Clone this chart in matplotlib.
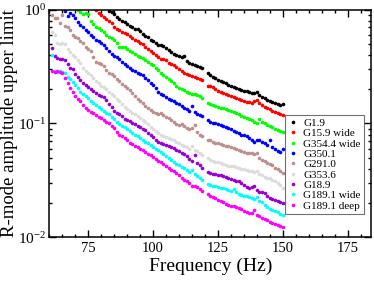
''' R-mode amplitude upper limits vs frequency for several targets
'''

import numpy as np
import matplotlib
matplotlib.use('Agg')
import matplotlib.pyplot as plt
from matplotlib.ticker import MultipleLocator, LogLocator


# DATA
#*************

# frequency bins (Hz), 120 Hz is missing (mains harmonic)
freq = [61, 62, 63, 64, 65, 66, 67, 68, 69, 70, 71, 72, 73, 74, 75, 76, 77, 78, 79, 80,
        81, 82, 83, 84, 85, 86, 87, 88, 89, 90, 91, 92, 93, 94, 95, 96, 97, 98, 99, 100,
        101, 102, 103, 104, 105, 106, 107, 108, 109, 110, 111, 112, 113, 114, 115, 116, 117, 118, 119,
        121, 122, 123, 124, 125, 126, 127, 128, 129, 130, 131, 132, 133, 134, 135, 136, 137, 138, 139, 140,
        141, 142, 143, 144, 145, 146, 147, 148, 149, 150]

# each list ends at 150 Hz and starts at the first visible bin
g1_9 = [0.98, 0.95, 0.91, 0.86, 0.83, 0.80, 0.77, 0.75, 0.72, 0.70, 0.68, 0.67, 0.65, 0.61, 0.59, 0.57, 0.54,
        0.53, 0.51, 0.49, 0.485, 0.475, 0.46, 0.44, 0.425, 0.41, 0.40, 0.39, 0.385, 0.39, 0.355, 0.34, 0.335,
        0.325, 0.32, 0.315, 0.305,
        0.275, 0.268, 0.258, 0.252, 0.243, 0.238, 0.231, 0.226, 0.219, 0.213, 0.207, 0.203, 0.199, 0.196,
        0.194, 0.192, 0.19, 0.187, 0.184, 0.19, 0.178, 0.172, 0.167, 0.162, 0.158, 0.155, 0.152, 0.149,
        0.146, 0.149]

g15_9 = [0.99, 0.94, 0.90, 0.86, 0.82, 0.79, 0.76, 0.71, 0.68, 0.655, 0.64, 0.62, 0.61, 0.59, 0.56, 0.54,
         0.525, 0.51, 0.50, 0.47, 0.45, 0.43, 0.415, 0.40, 0.385, 0.37, 0.365, 0.36, 0.34, 0.33, 0.325, 0.315,
         0.30, 0.29, 0.28, 0.27, 0.265, 0.26, 0.255, 0.25, 0.245, 0.24,
         0.215, 0.212, 0.208, 0.2, 0.194, 0.19, 0.185, 0.182, 0.179, 0.176, 0.172, 0.167, 0.163, 0.161,
         0.158, 0.155, 0.153, 0.15, 0.156, 0.162, 0.152, 0.145, 0.139, 0.136, 0.133, 0.13, 0.127, 0.124,
         0.121, 0.119]

g354_4 = [0.99, 0.96, 0.92, 0.94, 0.91, 0.80, 0.75, 0.71, 0.69, 0.66, 0.63, 0.60, 0.58, 0.56, 0.54, 0.51,
          0.47, 0.47, 0.465, 0.45, 0.43, 0.42, 0.41, 0.395, 0.385, 0.375, 0.36, 0.348, 0.336, 0.325, 0.31,
          0.295, 0.28, 0.268, 0.257, 0.245, 0.236, 0.225, 0.212, 0.205, 0.2, 0.195, 0.19, 0.187, 0.183, 0.18,
          0.178, 0.174, 0.168,
          0.152, 0.149, 0.146, 0.143, 0.14, 0.138, 0.136, 0.134, 0.131, 0.129, 0.126, 0.123, 0.12, 0.117,
          0.114, 0.112, 0.11, 0.107, 0.104, 0.102, 0.109, 0.104, 0.1, 0.097, 0.095, 0.093, 0.09, 0.088,
          0.086, 0.085]

g350_1 = [0.98, 0.87, 0.94, 0.9, 0.84, 0.77, 0.73, 0.71, 0.66, 0.63, 0.6, 0.575, 0.545, 0.525, 0.505,
          0.485, 0.46, 0.435, 0.41, 0.395, 0.38, 0.365, 0.345, 0.33, 0.318, 0.308, 0.297, 0.288, 0.278,
          0.272, 0.266, 0.252, 0.24, 0.228, 0.218, 0.205, 0.19, 0.183, 0.177, 0.17, 0.165, 0.161, 0.156,
          0.152, 0.148, 0.143, 0.138, 0.133, 0.13, 0.141, 0.126, 0.122, 0.119, 0.116,
          0.107, 0.104, 0.102, 0.1, 0.099, 0.097, 0.095, 0.093, 0.091, 0.089, 0.086, 0.084, 0.082, 0.08,
          0.079, 0.077, 0.075, 0.071, 0.069, 0.072, 0.071, 0.069, 0.067, 0.065, 0.072, 0.062, 0.06, 0.057,
          0.056, 0.06]

g291_0 = [0.9, 0.85, 0.84, 0.76, 0.89, 0.72, 0.70, 0.66, 0.60, 0.58, 0.56, 0.53, 0.505, 0.47, 0.45, 0.43,
          0.38, 0.35, 0.34, 0.33, 0.32, 0.295, 0.28, 0.27, 0.26, 0.248, 0.235, 0.224, 0.215, 0.205, 0.195,
          0.184, 0.174, 0.165, 0.157, 0.15, 0.143, 0.137, 0.131, 0.127, 0.124, 0.122, 0.123, 0.119, 0.115,
          0.112, 0.107, 0.103, 0.099, 0.097, 0.098, 0.095, 0.091, 0.089, 0.092, 0.097, 0.084, 0.08, 0.078,
          0.072, 0.071, 0.069, 0.068, 0.067, 0.066, 0.065, 0.064, 0.063, 0.062, 0.061, 0.06, 0.058, 0.057,
          0.056, 0.0555, 0.055, 0.055, 0.054, 0.055, 0.05, 0.048, 0.047, 0.045, 0.044, 0.043, 0.041, 0.04,
          0.038, 0.037]

g353_6 = [0.63, 0.60, 0.51, 0.50, 0.505, 0.50, 0.45, 0.42, 0.40, 0.385, 0.36, 0.34, 0.31, 0.29, 0.28,
          0.265, 0.25, 0.235, 0.225, 0.215, 0.207, 0.2, 0.19, 0.182, 0.173, 0.165, 0.157, 0.149, 0.14, 0.134,
          0.129, 0.124, 0.12, 0.116, 0.112, 0.108, 0.104, 0.099, 0.094, 0.09, 0.086, 0.082, 0.08, 0.078,
          0.076, 0.075, 0.073, 0.071, 0.069, 0.067, 0.065, 0.064, 0.062, 0.06, 0.063, 0.059, 0.057, 0.055,
          0.053,
          0.0495, 0.048, 0.047, 0.046, 0.0455, 0.045, 0.044, 0.043, 0.0425, 0.042, 0.042, 0.0415, 0.041,
          0.040, 0.0395, 0.039, 0.0385, 0.038, 0.0375, 0.038, 0.036, 0.035, 0.034, 0.0335, 0.033, 0.032,
          0.031, 0.03, 0.029, 0.027]

g18_9 = [0.46, 0.39, 0.375, 0.37, 0.365, 0.36, 0.33, 0.305, 0.30, 0.27, 0.255, 0.24, 0.225, 0.218, 0.21,
         0.20, 0.192, 0.185, 0.178, 0.175, 0.172, 0.16, 0.148, 0.14, 0.13, 0.123, 0.12, 0.117, 0.11, 0.107,
         0.105, 0.102, 0.099, 0.096, 0.093, 0.09, 0.087, 0.083, 0.079, 0.076, 0.072, 0.069, 0.068, 0.066,
         0.065, 0.063, 0.062, 0.0605, 0.059, 0.057, 0.055, 0.0535, 0.052, 0.049, 0.047, 0.053, 0.045, 0.043,
         0.041,
         0.0376, 0.0368, 0.036, 0.0357, 0.0353, 0.035, 0.0343, 0.0337, 0.033, 0.0325, 0.032, 0.0315, 0.031,
         0.0303, 0.029, 0.0275, 0.027, 0.0275, 0.028, 0.026, 0.025, 0.0248, 0.0245, 0.0232, 0.022, 0.0218,
         0.0215, 0.021, 0.0204, 0.02]

g189_1w = [0.40, 0.29, 0.285, 0.29, 0.285, 0.28, 0.258, 0.245, 0.232, 0.218, 0.205, 0.19, 0.183, 0.175,
           0.166, 0.158, 0.152, 0.145, 0.139, 0.133, 0.129, 0.124, 0.12, 0.115, 0.11, 0.103, 0.099, 0.096,
           0.093, 0.089, 0.086, 0.083, 0.08, 0.077, 0.075, 0.072, 0.069, 0.067, 0.065, 0.062, 0.06, 0.058,
           0.056, 0.054, 0.052, 0.05, 0.048, 0.046, 0.044, 0.043, 0.0415, 0.0405, 0.039, 0.0377, 0.039,
           0.036, 0.0345, 0.033, 0.032,
           0.0294, 0.0288, 0.0283, 0.028, 0.0277, 0.0272, 0.027, 0.0265, 0.026, 0.0255, 0.0266, 0.025,
           0.024, 0.0237, 0.0233, 0.023, 0.0226, 0.0222, 0.0218, 0.0225, 0.021, 0.0204, 0.0192, 0.0185,
           0.0178, 0.0174, 0.0171, 0.0166, 0.0162, 0.0157]

g189_1d = [0.29, 0.285, 0.29, 0.285, 0.28, 0.25, 0.225, 0.205, 0.19, 0.175, 0.165, 0.157, 0.146, 0.138,
           0.131, 0.127, 0.123, 0.118, 0.114, 0.111, 0.107, 0.104, 0.1, 0.096, 0.092, 0.084, 0.079, 0.077,
           0.074, 0.071, 0.068, 0.066, 0.064, 0.062, 0.06, 0.058, 0.056, 0.054, 0.053, 0.051, 0.049, 0.047,
           0.046, 0.044, 0.042, 0.0405, 0.039, 0.038, 0.0365, 0.0355, 0.0335, 0.032, 0.031, 0.03, 0.0285,
           0.0283, 0.0275, 0.0265, 0.0255,
           0.024, 0.0233, 0.0228, 0.0222, 0.0215, 0.021, 0.0203, 0.0198, 0.0194, 0.019, 0.0187, 0.0185,
           0.0182, 0.0177, 0.0172, 0.0168, 0.0163, 0.0165, 0.0175, 0.0158, 0.0153, 0.0149, 0.0145, 0.0141,
           0.0137, 0.0134, 0.0131, 0.0128, 0.0126, 0.0123]

series = [g1_9, g15_9, g354_4, g350_1, g291_0, g353_6, g18_9, g189_1w, g189_1d]
labels = ['G1.9', 'G15.9 wide', 'G354.4 wide', 'G350.1', 'G291.0', 'G353.6',
          'G18.9', 'G189.1 wide', 'G189.1 deep']
colors = ['#000000', '#ff0000', '#00ff00', '#0000ff', '#bc8f8f', '#dcdcdc',
          '#9400d3', '#00ffff', '#ff00ff']


# PLOT
#*************

plt.rcParams['font.family'] = ['Liberation Serif', 'DejaVu Serif']
plt.rcParams['mathtext.fontset'] = 'stix'

fig = plt.figure(figsize=(3.74, 2.81), dpi=100)
ax = fig.add_axes([0.132, 0.155, 0.86, 0.811])

for vals, lab, col in zip(series, labels, colors):
    f = freq[-len(vals):]
    ax.plot(f, vals, ls='none', marker='o', ms=2.6, mec='none', mfc=col, label=lab)

ax.set_yscale('log')
ax.set_xlim(60, 184)
ax.set_ylim(0.01, 1)

ax.xaxis.set_major_locator(MultipleLocator(25))
ax.xaxis.set_minor_locator(MultipleLocator(5))
ax.yaxis.set_minor_locator(LogLocator(base=10, subs=np.arange(2, 10)))
ax.tick_params(which='both', direction='in', top=True, right=True)
ax.tick_params(axis='x', labelsize=10.5)
ax.tick_params(axis='y', labelsize=11, pad=2.5)
ax.tick_params(which='major', length=5, width=1)
ax.tick_params(which='minor', length=2.5, width=1)
for sp in ax.spines.values():
    sp.set_linewidth(1.1)

ax.set_xlabel('Frequency (Hz)', fontsize=14, labelpad=2)
ax.set_ylabel('R-mode amplitude upper limit', fontsize=13.5, va='center')
ax.yaxis.set_label_coords(-0.124, 0.5)

leg = ax.legend(loc='lower right', bbox_to_anchor=(0.978, 0.103), fontsize=8, numpoints=1,
                markerscale=1.0, handlelength=0.8, handletextpad=0.5, labelspacing=0.05,
                borderpad=0.3, borderaxespad=0, frameon=True, fancybox=False)
leg.get_frame().set_edgecolor('0.3')
leg.get_frame().set_linewidth(0.8)

fig.savefig('out.png', dpi=100)
